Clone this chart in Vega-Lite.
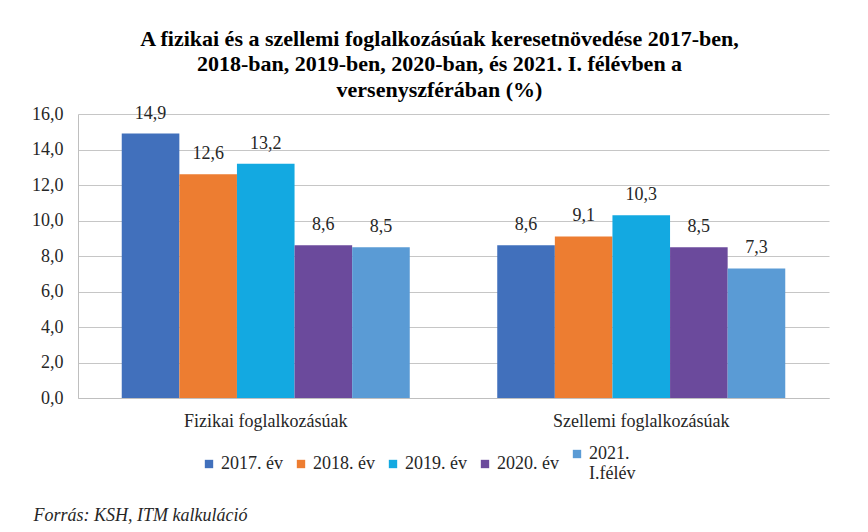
{
  "$schema": "https://vega.github.io/schema/vega-lite/v6.json",
  "width": 751,
  "height": 284,
  "autosize": {"type": "none"},
  "padding": {"left": 78, "top": 114, "right": 39, "bottom": 134},
  "background": "white",
  "title": {
    "text": ["A fizikai és a  szellemi foglalkozásúak keresetnövedése 2017-ben,", "2018-ban, 2019-ben, 2020-ban, és 2021. I. félévben a", "versenyszférában (%)"],
    "font": "Liberation Serif",
    "fontSize": 22,
    "fontWeight": "bold",
    "color": "#000000",
    "lineHeight": 25.5,
    "anchor": "middle",
    "dx": -14,
    "offset": 3
  },
  "data": {
    "values": [
      {"group": "Fizikai foglalkozásúak", "year": "2017. év", "value": 14.9},
      {"group": "Fizikai foglalkozásúak", "year": "2018. év", "value": 12.6},
      {"group": "Fizikai foglalkozásúak", "year": "2019. év", "value": 13.2},
      {"group": "Fizikai foglalkozásúak", "year": "2020. év", "value": 8.6},
      {"group": "Fizikai foglalkozásúak", "year": "2021. I.félév", "value": 8.5},
      {"group": "Szellemi foglalkozásúak", "year": "2017. év", "value": 8.6},
      {"group": "Szellemi foglalkozásúak", "year": "2018. év", "value": 9.1},
      {"group": "Szellemi foglalkozásúak", "year": "2019. év", "value": 10.3},
      {"group": "Szellemi foglalkozásúak", "year": "2020. év", "value": 8.5},
      {"group": "Szellemi foglalkozásúak", "year": "2021. I.félév", "value": 7.3}
    ]
  },
  "encoding": {
    "x": {
      "field": "group",
      "type": "nominal",
      "sort": ["Fizikai foglalkozásúak", "Szellemi foglalkozásúak"],
      "scale": {"paddingInner": 0.233, "paddingOuter": 0.1165},
      "axis": {
        "labelAngle": 0,
        "ticks": false,
        "domainColor": "#BFBFBF",
        "labelPadding": 14,
        "labelFont": "Liberation Serif",
        "labelFontSize": 18,
        "labelColor": "#262626",
        "title": "Forrás: KSH, ITM kalkuláció",
        "titleFont": "Liberation Serif",
        "titleFontSize": 18,
        "titleFontStyle": "italic",
        "titleFontWeight": "normal",
        "titleColor": "#262626",
        "titleAnchor": "start",
        "titleAlign": "left",
        "titleBaseline": "middle",
        "titleX": -45,
        "titleY": 117
      }
    },
    "xOffset": {
      "field": "year",
      "type": "nominal",
      "sort": ["2017. év", "2018. év", "2019. év", "2020. év", "2021. I.félév"],
      "scale": {"paddingInner": 0, "paddingOuter": 0}
    },
    "y": {
      "field": "value",
      "type": "quantitative",
      "scale": {"domain": [0, 16], "nice": false},
      "axis": {
        "values": [0, 2, 4, 6, 8, 10, 12, 14, 16],
        "format": ".1f",
        "title": null,
        "ticks": false,
        "grid": true,
        "gridColor": "#C6C6C6",
        "gridWidth": 1.2,
        "domainColor": "#BFBFBF",
        "labelPadding": 15,
        "labelFont": "Liberation Serif",
        "labelFontSize": 18,
        "labelColor": "#262626"
      }
    }
  },
  "layer": [
    {
      "mark": {"type": "bar"},
      "encoding": {
        "color": {
          "field": "year",
          "type": "nominal",
          "sort": ["2017. év", "2018. év", "2019. év", "2020. év", "2021. I.félév"],
          "scale": {
            "domain": ["2017. év", "2018. év", "2019. év", "2020. év", "2021. I.félév"],
            "range": ["#4170BC", "#ED7D31", "#13A9E1", "#6B4A9C", "#5A9BD5"]
          },
          "legend": {
            "orient": "none",
            "direction": "horizontal",
            "legendX": 122,
            "legendY": 331,
            "title": null,
            "symbolType": "square",
            "symbolSize": 70,
            "symbolStrokeWidth": 0,
            "labelFont": "Liberation Serif",
            "labelFontSize": 18,
            "labelColor": "#262626",
            "labelOffset": 3,
            "columnPadding": 9,
            "labelExpr": "datum.label == '2021. I.félév' ? ['2021.', 'I.félév'] : datum.label"
          }
        }
      }
    },
    {
      "mark": {"type": "text", "baseline": "bottom", "dy": -11, "font": "Liberation Serif", "fontSize": 18, "color": "#262626"},
      "encoding": {
        "text": {"field": "value", "type": "quantitative", "format": ".1f"}
      }
    }
  ],
  "config": {
    "locale": {"number": {"decimal": ",", "thousands": " ", "grouping": [3], "currency": ["", " Ft"]}},
    "view": {"stroke": null}
  }
}
